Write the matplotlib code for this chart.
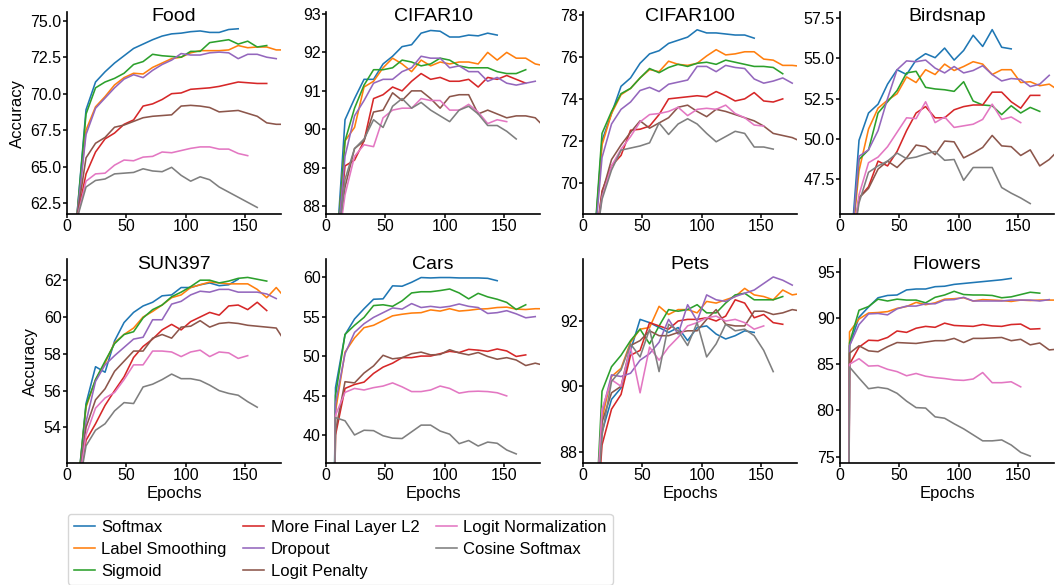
import matplotlib
matplotlib.use("Agg")
import matplotlib.pyplot as plt
from matplotlib.ticker import MultipleLocator, FormatStrFormatter

plt.rcParams['font.family'] = ['Liberation Sans', 'DejaVu Sans']

METHODS = ["Softmax", "Label Smoothing", "Sigmoid", "More Final Layer L2",
           "Dropout", "Logit Penalty", "Logit Normalization", "Cosine Softmax"]
COLORS = ["#1f77b4", "#ff7f0e", "#2ca02c", "#d62728",
          "#9467bd", "#8c564b", "#e377c2", "#7f7f7f"]
DATASETS = ["Food", "CIFAR10", "CIFAR100", "Birdsnap",
            "SUN397", "Cars", "Pets", "Flowers"]

EPOCHS = [8, 16, 24, 32, 40, 48, 56, 64, 72, 80, 88, 96, 104, 112, 120,
          128, 136, 144, 152, 160, 168, 176, 184]

# Warm-up point (epoch, accuracy) before the first listed value, and epoch of first value
WARMUP = {"Food": (8, 61.3), "CIFAR10": (8, 86.5), "CIFAR100": (8, 66.0),
          "Birdsnap": (8, 42.0), "SUN397": (8, 50.0), "Cars": (6, 20.0),
          "Pets": (8, 84.0), "Flowers": (6, 20.0)}
FIRST_EPOCH = {"Food": 16, "CIFAR10": 16, "CIFAR100": 16, "Birdsnap": 16,
               "SUN397": 16, "Cars": 8, "Pets": 16, "Flowers": 8}

# order: Softmax, Label Smoothing, Sigmoid, L2, Dropout, Logit Penalty, Logit Norm, Cosine
food = [
    [68.9, 70.8, 71.5, 72.1, 72.6, 73.1, 73.4, 73.7, 73.95, 74.1, 74.15, 74.25, 74.3, 74.2, 74.2, 74.4, 74.45],
    [67.5, 69.1, 69.8, 70.6, 71.1, 71.4, 71.35, 71.8, 72.1, 72.4, 72.5, 72.8, 72.95, 72.95, 72.95, 73.0, 73.3, 73.15, 73.2, 73.2, 73.0, 73.0],
    [68.6, 70.4, 70.8, 71.05, 71.4, 72.0, 72.2, 72.7, 72.6, 72.55, 72.5, 72.9, 72.9, 73.5, 73.6, 73.7, 73.4, 73.6, 73.2, 73.3],
    [64.5, 66.0, 66.9, 67.3, 67.9, 68.2, 69.15, 69.3, 69.6, 70.0, 70.05, 70.3, 70.35, 70.4, 70.5, 70.65, 70.8, 70.75, 70.7, 70.7],
    [67.2, 69.0, 69.7, 70.4, 71.0, 71.3, 71.1, 71.6, 72.0, 72.3, 72.75, 72.65, 72.65, 72.8, 72.85, 72.8, 72.4, 72.7, 72.7, 72.5, 72.4],
    [65.6, 66.6, 67.0, 67.7, 67.85, 68.1, 68.35, 68.45, 68.5, 68.55, 69.15, 69.2, 69.15, 69.05, 68.75, 68.8, 68.85, 68.65, 68.45, 68.0, 67.9, 67.9],
    [64.0, 64.5, 64.55, 65.1, 65.45, 65.4, 65.65, 65.7, 66.0, 65.95, 66.1, 66.25, 66.35, 66.35, 66.2, 66.2, 65.9, 65.75],
    [63.6, 64.05, 64.15, 64.5, 64.55, 64.6, 64.85, 64.7, 64.65, 64.95, 64.4, 64.0, 64.3, 64.1, 63.6, 63.25, 62.9, 62.55, 62.2],
]
cifar10 = [
    [90.25, 90.8, 91.3, 91.3, 91.7, 91.9, 92.15, 92.2, 92.5, 92.57, 92.55, 92.4, 92.4, 92.45, 92.43, 92.5, 92.45],
    [89.7, 90.05, 91.1, 91.25, 91.6, 91.85, 91.7, 91.5, 91.8, 91.65, 91.75, 91.7, 91.75, 91.75, 91.7, 92.0, 91.8, 92.0, 91.85, 91.85, 91.7, 91.65],
    [89.7, 90.55, 91.15, 91.55, 91.55, 91.6, 91.8, 91.75, 91.65, 91.7, 91.85, 91.8, 91.65, 91.6, 91.6, 91.6, 91.5, 91.45, 91.45, 91.55],
    [89.05, 89.2, 89.7, 90.8, 90.9, 91.1, 91.0, 91.25, 91.45, 91.3, 91.35, 91.25, 91.25, 91.3, 91.1, 91.35, 91.3, 91.4, 91.3, 91.2],
    [89.3, 90.35, 90.75, 91.2, 91.3, 91.3, 91.5, 91.6, 91.9, 91.85, 91.85, 91.6, 91.65, 91.5, 91.5, 91.25, 91.35, 91.2, 91.15, 91.2, 91.25],
    [88.5, 89.5, 89.7, 90.45, 90.5, 90.95, 90.75, 91.0, 91.0, 90.8, 90.55, 90.85, 90.9, 90.9, 90.4, 90.5, 90.4, 90.3, 90.35, 90.35, 90.3, 90.05],
    [88.3, 89.3, 89.6, 89.55, 90.3, 90.5, 90.55, 90.55, 90.8, 90.75, 90.75, 90.5, 90.5, 90.65, 90.45, 90.15, 90.25, 90.2],
    [88.7, 89.5, 89.75, 90.25, 90.05, 90.6, 90.8, 90.55, 90.7, 90.5, 90.35, 90.2, 90.5, 90.6, 90.4, 90.1, 90.1, 89.95, 89.75],
]
cifar100 = [
    [72.0, 73.3, 74.6, 75.0, 75.7, 76.15, 76.3, 76.65, 76.8, 76.95, 77.3, 77.15, 77.15, 77.1, 77.05, 77.05, 76.9],
    [71.8, 73.3, 74.2, 74.5, 75.0, 75.4, 75.3, 75.8, 75.65, 75.6, 75.7, 76.05, 76.35, 76.1, 76.15, 76.25, 76.25, 75.9, 75.85, 75.6, 75.6, 75.55],
    [72.35, 73.4, 74.25, 74.5, 75.0, 75.45, 75.25, 75.5, 75.65, 75.55, 75.7, 75.75, 75.65, 75.85, 75.75, 75.65, 75.55, 75.55, 75.5, 75.2],
    [69.6, 70.8, 71.3, 72.5, 72.55, 72.7, 73.25, 74.0, 74.05, 74.1, 74.15, 74.1, 74.35, 74.15, 73.9, 74.0, 74.3, 73.9, 73.85, 74.0],
    [71.2, 72.8, 73.5, 73.85, 74.4, 74.55, 74.35, 74.7, 74.8, 74.9, 75.55, 75.55, 75.3, 75.6, 75.5, 75.45, 74.95, 74.75, 74.85, 75.0, 74.75],
    [69.5, 71.1, 71.8, 72.4, 72.95, 72.6, 72.85, 73.1, 73.6, 73.7, 73.4, 73.15, 73.5, 73.4, 73.25, 73.1, 72.95, 72.7, 72.35, 72.25, 72.15, 71.95],
    [69.3, 70.8, 71.6, 72.2, 72.9, 73.25, 73.3, 73.4, 73.6, 73.2, 73.5, 73.55, 73.5, 73.7, 73.3, 73.1, 72.75, 72.7],
    [69.2, 70.6, 71.55, 71.65, 71.75, 71.9, 72.85, 72.3, 72.8, 73.05, 72.8, 72.35, 71.95, 72.2, 72.45, 72.35, 71.7, 71.7, 71.6],
]
birdsnap = [
    [49.9, 51.6, 52.15, 53.4, 54.3, 54.0, 54.9, 55.3, 55.05, 55.65, 54.9, 55.5, 56.45, 55.75, 56.8, 55.7, 55.6],
    [48.0, 50.6, 51.9, 52.4, 52.8, 53.85, 53.5, 54.3, 54.0, 54.65, 54.25, 54.5, 54.8, 54.65, 54.0, 54.3, 54.3, 53.5, 53.55, 53.3, 53.4, 53.0],
    [48.7, 49.3, 51.6, 52.3, 53.0, 54.1, 54.2, 53.2, 53.1, 53.05, 52.95, 53.55, 52.35, 52.1, 52.05, 51.5, 52.05, 51.6, 51.95, 51.7],
    [46.3, 47.0, 48.6, 48.3, 49.2, 50.5, 51.6, 52.0, 51.3, 51.3, 51.8, 52.0, 52.1, 52.1, 52.9, 52.9, 52.3, 51.9, 52.7, 52.7],
    [48.9, 49.3, 50.5, 52.5, 54.3, 54.85, 54.8, 54.9, 54.4, 54.1, 54.5, 54.1, 54.25, 54.55, 54.0, 53.6, 53.75, 53.7, 53.25, 53.4, 53.95],
    [46.3, 46.9, 48.1, 48.6, 48.2, 48.8, 49.6, 49.5, 49.0, 49.85, 49.8, 48.8, 49.1, 49.45, 50.2, 49.55, 49.5, 48.95, 49.3, 48.3, 48.7, 49.3],
    [46.5, 48.5, 48.85, 49.5, 50.4, 51.3, 51.25, 52.3, 51.0, 51.35, 50.7, 50.8, 50.9, 51.2, 52.15, 51.2, 51.35, 51.0],
    [46.0, 47.9, 48.3, 48.6, 49.1, 48.75, 48.85, 49.05, 49.2, 48.65, 48.7, 47.4, 48.2, 48.2, 48.2, 46.95, 46.6, 46.3, 45.95],
]
sun397 = [
    [55.3, 57.3, 57.0, 58.7, 59.7, 60.25, 60.6, 60.8, 61.15, 61.2, 61.6, 61.6, 61.75, 61.85, 61.7, 61.75, 62.05],
    [55.1, 56.6, 57.5, 58.6, 59.05, 59.4, 60.0, 60.3, 60.65, 61.05, 61.2, 61.6, 61.75, 61.9, 61.85, 61.8, 61.8, 61.8, 61.5, 61.05, 61.6, 61.0],
    [55.2, 56.6, 57.6, 58.55, 59.05, 59.2, 59.95, 60.4, 60.65, 61.1, 61.35, 61.65, 62.0, 62.0, 61.85, 61.95, 62.1, 62.15, 62.05, 61.95],
    [53.3, 54.2, 55.2, 56.0, 56.75, 57.8, 58.4, 58.8, 59.3, 59.6, 59.3, 59.75, 60.0, 60.25, 60.1, 60.6, 60.65, 60.4, 60.8, 60.35],
    [54.3, 56.5, 57.4, 57.9, 58.35, 58.8, 58.9, 59.85, 59.85, 60.7, 60.85, 61.2, 61.4, 61.35, 61.5, 61.5, 61.35, 61.35, 61.35, 61.25, 61.0],
    [54.0, 55.5, 56.1, 57.05, 57.6, 58.15, 58.15, 58.85, 59.05, 58.85, 59.45, 59.5, 59.8, 59.45, 59.65, 59.7, 59.65, 59.55, 59.5, 59.45, 59.4, 58.6],
    [53.6, 55.05, 55.6, 55.9, 56.6, 57.4, 57.4, 58.15, 58.15, 58.1, 57.85, 58.1, 58.2, 57.85, 58.1, 58.05, 57.75, 57.9],
    [53.0, 53.85, 54.2, 54.9, 55.35, 55.3, 56.2, 56.35, 56.6, 56.9, 56.65, 56.65, 56.55, 56.3, 56.0, 55.85, 55.75, 55.4, 55.1],
]
cars = [
    [46.0, 52.7, 54.7, 56.0, 57.2, 57.25, 58.9, 58.85, 59.35, 59.95, 59.9, 59.95, 59.95, 59.9, 59.9, 59.9, 59.85, 59.55],
    [43.0, 50.5, 52.3, 53.6, 53.9, 54.5, 55.1, 55.3, 55.45, 55.5, 55.85, 55.7, 56.0, 55.7, 55.8, 55.95, 56.0, 56.15, 56.2, 55.95, 55.9, 56.0, 56.0],
    [45.0, 52.75, 53.9, 54.9, 56.4, 56.5, 56.3, 57.0, 58.0, 58.15, 58.15, 58.3, 58.5, 58.0, 57.25, 57.95, 57.5, 57.2, 56.8, 55.9, 56.5],
    [40.0, 45.9, 46.4, 46.7, 47.8, 48.6, 49.1, 49.8, 49.8, 50.0, 50.0, 50.3, 50.6, 50.45, 50.85, 50.75, 50.6, 50.9, 50.65, 49.95, 50.15],
    [44.0, 50.3, 53.0, 54.1, 54.9, 55.5, 56.1, 55.95, 56.65, 56.15, 56.3, 56.15, 56.3, 56.6, 56.3, 56.15, 55.4, 55.5, 55.75, 55.35, 54.85, 55.0],
    [40.5, 46.75, 46.6, 47.85, 48.75, 50.1, 49.65, 49.8, 50.3, 50.5, 50.15, 50.2, 50.8, 50.4, 50.15, 50.45, 49.95, 49.6, 49.8, 49.5, 48.8, 49.1, 48.8],
    [42.5, 45.4, 45.9, 45.7, 46.0, 46.2, 46.6, 46.1, 45.5, 45.5, 45.7, 46.2, 45.9, 45.3, 45.5, 45.55, 45.5, 45.35, 44.95],
    [42.2, 41.8, 40.0, 40.6, 40.55, 39.9, 39.6, 39.55, 40.4, 41.25, 41.25, 40.5, 40.1, 38.9, 39.3, 38.6, 39.1, 38.95, 38.1, 37.6],
]
pets = [
    [88.6, 89.6, 89.95, 91.1, 92.05, 91.95, 91.8, 91.65, 91.8, 91.4, 91.8, 91.85, 91.6, 91.45, 91.55, 91.7, 91.65],
    [89.0, 90.3, 90.55, 91.35, 91.75, 91.8, 92.45, 92.2, 92.35, 92.35, 92.25, 92.6, 92.55, 92.65, 92.75, 93.0, 92.8, 92.75, 92.65, 92.95, 92.8, 92.85],
    [89.85, 90.6, 90.95, 91.4, 91.75, 91.3, 91.85, 92.35, 92.3, 92.35, 92.5, 92.25, 92.25, 92.55, 92.8, 92.85, 92.65, 92.65, 92.65, 92.75],
    [88.2, 89.3, 89.75, 90.95, 91.1, 91.95, 91.85, 91.75, 92.0, 92.05, 92.05, 92.1, 92.0, 92.15, 92.65, 92.55, 92.1, 92.2, 91.95, 91.9],
    [89.2, 90.35, 90.3, 90.4, 90.8, 91.0, 91.35, 92.05, 91.6, 92.5, 92.0, 92.8, 92.65, 92.6, 92.75, 92.85, 92.95, 93.15, 93.35, 93.25, 93.1],
    [88.9, 89.8, 90.0, 91.25, 91.4, 91.7, 91.55, 91.55, 91.65, 91.7, 91.7, 92.05, 92.35, 91.9, 91.85, 91.85, 92.3, 92.3, 92.2, 92.25, 92.35, 92.3],
    [89.3, 90.2, 90.0, 91.2, 89.8, 91.2, 90.8, 91.2, 91.5, 91.85, 91.95, 92.1, 92.15, 92.0, 92.05, 91.95, 91.75, 91.85],
    [88.5, 90.15, 90.5, 91.3, 90.9, 91.75, 90.45, 91.9, 91.7, 91.25, 91.95, 90.9, 91.3, 91.9, 91.7, 91.75, 91.55, 91.1, 90.45],
]
flowers = [
    [87.0, 90.1, 91.2, 92.2, 92.45, 92.5, 93.05, 93.15, 93.15, 93.4, 93.45, 93.65, 93.75, 93.85, 93.95, 94.05, 94.15, 94.3],
    [88.5, 89.9, 90.55, 90.6, 90.7, 91.05, 91.25, 91.7, 91.45, 91.65, 92.05, 92.1, 92.2, 91.85, 92.0, 91.95, 91.9, 91.8, 91.95, 91.9, 91.95, 91.95, 91.95],
    [87.3, 90.85, 91.25, 92.05, 91.85, 92.05, 91.95, 91.95, 91.65, 92.25, 92.5, 92.9, 92.55, 92.5, 92.5, 92.45, 92.2, 92.3, 92.55, 92.8, 92.7],
    [85.0, 86.85, 87.6, 87.55, 87.9, 88.6, 88.45, 88.9, 89.1, 89.0, 89.45, 89.2, 89.15, 89.1, 89.3, 89.15, 89.1, 89.3, 89.35, 88.8, 88.85],
    [87.0, 89.3, 90.45, 90.5, 90.35, 91.0, 91.3, 91.3, 91.55, 91.55, 91.95, 92.0, 92.25, 91.85, 91.85, 91.85, 91.85, 91.95, 91.95, 91.95, 91.85, 92.0],
    [86.2, 87.0, 86.45, 86.35, 86.9, 87.35, 87.3, 87.25, 87.4, 87.55, 87.55, 87.8, 87.35, 87.8, 87.8, 87.85, 87.9, 87.55, 87.7, 87.1, 87.3, 86.55, 86.65],
    [85.0, 85.6, 84.8, 84.85, 84.45, 84.2, 83.75, 84.0, 83.7, 83.55, 83.45, 83.3, 83.25, 83.4, 84.1, 83.0, 83.0, 83.1, 82.55],
    [84.7, 83.5, 82.35, 82.5, 82.35, 81.85, 81.0, 80.3, 80.25, 79.3, 79.15, 78.55, 78.0, 77.35, 76.7, 76.7, 76.8, 76.25, 75.45, 75.05],
]

DATA = {"Food": food, "CIFAR10": cifar10, "CIFAR100": cifar100, "Birdsnap": birdsnap,
        "SUN397": sun397, "Cars": cars, "Pets": pets, "Flowers": flowers}

YLIMS = {"Food": (61.75, 75.6), "CIFAR10": (87.8, 93.05), "CIFAR100": (68.5, 78.15),
         "Birdsnap": (45.3, 57.9), "SUN397": (52.07, 63.15), "Cars": (36.45, 62.3),
         "Pets": (87.65, 93.9), "Flowers": (74.3, 96.4)}
YSTEP = {"Food": 2.5, "CIFAR10": 1, "CIFAR100": 2, "Birdsnap": 2.5,
         "SUN397": 2, "Cars": 5, "Pets": 2, "Flowers": 5}
YFMT = {"Food": "%.1f", "Birdsnap": "%.1f"}

W, H = 1055, 585
fig = plt.figure(figsize=(W / 100, H / 100), dpi=100)

lefts = [67, 326, 583, 840]
rows = [(12, 214), (259, 463)]
axw = 214

handles = []
for i, name in enumerate(DATASETS):
    r, c = divmod(i, 4)
    top, bot = rows[r]
    ax = fig.add_axes([lefts[c] / W, 1 - bot / H, axw / W, (bot - top) / H])
    we, wa = WARMUP[name]
    start = EPOCHS.index(FIRST_EPOCH[name])
    for k, vals in enumerate(DATA[name]):
        xs = [we] + EPOCHS[start:start + len(vals)]
        ys = [wa] + vals
        ln, = ax.plot(xs, ys, color=COLORS[k], lw=1.15, label=METHODS[k])
        if i == 0:
            handles.append(ln)
    ax.set_xlim(0, 180)
    ax.set_ylim(*YLIMS[name])
    ax.xaxis.set_major_locator(MultipleLocator(50))
    ax.yaxis.set_major_locator(MultipleLocator(YSTEP[name]))
    if name in YFMT:
        ax.yaxis.set_major_formatter(FormatStrFormatter(YFMT[name]))
    for s in ["top", "right"]:
        ax.spines[s].set_visible(False)
    for s in ["left", "bottom"]:
        ax.spines[s].set_linewidth(1.2)
    ax.tick_params(direction="out", length=2.6, width=1.1, labelsize=11.5, pad=1.3)
    ax.text(0.5, 0.955 if r == 0 else 0.951, name, transform=ax.transAxes,
            ha="center", va="baseline", fontsize=14)
    if c == 0:
        ax.set_ylabel("Accuracy", fontsize=12, labelpad=4)
    if r == 1:
        ax.set_xlabel("Epochs", fontsize=12, labelpad=2)

fig.legend(handles=handles, loc="upper left", bbox_to_anchor=(68 / W, 1 - 514 / H),
           borderaxespad=0, ncol=3, fontsize=12, handlelength=1.26, columnspacing=1.0,
           handletextpad=0.38, labelspacing=0.42, borderpad=0.35, frameon=True)

fig.savefig("out.png", dpi=100)
